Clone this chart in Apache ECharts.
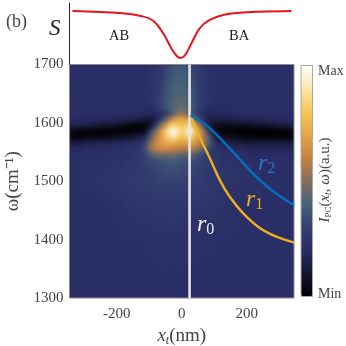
<!DOCTYPE html>
<html><head><meta charset="utf-8">
<style>html,body{margin:0;padding:0;background:#fff}#c{width:346px;height:346px}</style>
<script src="https://cdn.jsdelivr.net/npm/echarts@6/dist/echarts.min.js"></script>
</head><body><div id="c"></div>
<script>
const xTicks=[-200,0,200];
const omegaCells=[1695,1685,1675,1665,1655,1645,1635,1625,1615,1605,1595,1585,1575,1565,1555,1545,1535,1525,1515,1505,1495,1485,1475,1465,1455,1445,1435,1425,1415,1405,1395,1385,1375,1365,1355,1345,1335,1325,1315,1305];
const xCells=[-338,-323,-308,-293,-278,-263,-248,-233,-218,-203,-188,-173,-158,-143,-128,-113,-98,-83,-68,-53,-38,-23,-8,8,23,38,53,68,83,98,113,128,143,158,173,188,203,218,233,248,263,278,293,308,323,338];
const intensity=[
[21,21,21,21,21,21,21,21,21,21,21,21,21,21,21,21, 22,24,26,30,34,37,38,38,35,31,27,25,23,22, 21,21,21,21,21,21,21,21,21,21,21,21,21,21,21,21],
[21,21,21,21,21,21,21,21,21,21,21,21,21,21,21,21, 22,24,26,30,34,37,38,38,35,31,27,25,23,22, 21,21,21,21,21,21,21,21,21,21,21,21,21,21,21,21],
[21,21,21,21,21,21,21,21,21,21,21,21,21,21,21,21, 22,24,26,31,35,38,39,39,36,32,27,25,23,22, 21,21,21,21,21,21,21,21,21,21,21,21,21,21,21,21],
[21,21,21,21,21,21,21,21,21,21,21,21,21,21,21,21, 22,24,27,32,36,39,40,40,37,33,28,25,23,22, 21,21,21,21,21,21,21,21,21,21,21,21,21,21,21,21],
[21,21,21,21,21,21,21,21,21,21,21,21,21,21,21,22, 23,25,28,33,37,40,41,41,38,34,29,26,23,22, 21,21,21,21,21,21,21,21,21,21,21,21,21,21,21,21],
[21,21,21,21,21,21,21,21,21,21,21,21,21,21,21,22, 23,25,29,34,38,41,42,42,40,35,30,26,23,22, 21,21,21,21,21,21,21,21,21,21,21,21,21,21,21,21],
[20,20,20,21,21,21,21,21,21,21,21,21,21,21,21,21, 22,25,30,35,39,42,43,43,41,35,30,26,23,21, 21,21,21,21,21,21,21,21,21,21,21,21,21,21,21,21],
[20,20,20,20,20,20,20,20,20,20,20,20,20,20,20,20, 21,23,28,34,39,43,45,45,42,36,29,24,21,20, 20,20,20,20,20,20,20,20,20,20,20,20,20,20,20,20],
[21,21,21,21,21,21,21,21,21,21,20,20,20,20,20,19, 18,18,20,25,33,44,52,52,44,33,24,20,18,18, 19,19,19,20,20,20,20,20,20,20,20,20,20,20,20,20],
[19,19,19,19,19,18,18,18,18,17,17,16,15,14,13,11, 10,13,23,38,55,66,70,70,68,53,35,21,15,14, 14,14,14,15,15,16,16,16,17,17,18,18,18,19,19,19],
[15,15,14,14,13,12,11,10,9,8,6,5,3,2,1,2, 6,22,45,62,80,86,80,80,86,76,60,36,14,7, 6,5,5,5,5,5,6,7,8,8,9,10,11,12,13,14],
[2,2,1,1,1,0,0,0,0,0,0,0,1,2,3,5, 25,45,62,78,95,100,88,84,100,88,72,55,30,10, 4,2,1,1,0,0,0,0,0,0,0,0,0,1,1,1],
[2,2,2,3,3,4,4,5,6,7,8,9,10,12,14,18, 35,54,66,76,86,90,80,78,86,78,68,58,42,20, 11,9,7,6,5,4,3,3,2,2,2,2,2,2,2,2],
[13,13,14,15,15,16,16,17,17,18,18,19,20,21,23,30, 50,60,66,70,72,72,68,68,70,68,62,54,42,28, 18,16,15,14,13,13,12,12,12,12,12,12,13,13,13,13],
[19,19,19,20,20,20,20,21,21,21,21,22,22,23,26,34, 50,58,62,62,62,60,58,56,58,56,50,42,33,26, 22,21,20,20,19,19,18,18,18,18,18,18,18,18,18,18],
[21,21,21,21,21,21,21,22,22,22,23,23,24,25,27,31, 38,44,47,47,47,47,44,42,44,42,36,31,27,25, 24,23,22,22,21,21,21,20,20,20,20,20,20,20,20,20],
[21,21,21,22,21,22,22,22,23,23,23,24,25,26,28,30, 32,34,36,37,38,38,37,36,36,34,31,29,27,26, 25,24,23,23,22,22,22,21,21,21,21,21,21,21,21,21],
[21,21,22,22,22,23,22,23,24,23,24,25,26,27,28,29, 31,32,33,34,35,35,34,33,34,32,30,28,27,26, 25,24,24,23,23,22,22,22,21,21,21,21,21,21,21,21],
[21,22,22,23,22,23,23,24,23,24,25,25,26,27,28,29, 30,31,32,33,33,33,33,32,33,31,29,28,27,26, 25,25,24,24,23,23,22,22,22,21,21,21,21,21,21,21],
[21,21,22,22,23,23,24,23,24,25,25,26,27,27,28,28, 29,30,31,32,32,32,32,31,31,30,29,28,27,26, 25,25,24,24,23,23,23,22,22,22,21,21,21,21,21,21],
[21,21,21,22,23,22,23,24,24,24,25,26,26,27,27,28, 29,30,30,30,30,30,30,30,30,29,28,27,26,26, 25,24,24,24,23,23,23,22,22,22,22,21,21,21,21,21],
[21,21,21,21,22,22,22,23,24,24,25,25,26,26,27,27, 28,28,29,29,29,29,29,29,29,28,27,27,26,25, 25,24,24,23,23,23,22,22,22,22,22,21,21,21,21,21],
[21,21,21,21,21,22,22,22,23,23,24,25,25,25,26,26, 27,27,28,28,28,28,28,28,28,27,27,26,25,25, 24,24,23,23,23,22,22,22,22,22,21,21,21,21,21,21],
[21,21,21,21,21,21,22,22,22,23,23,24,24,25,25,26, 26,27,27,27,27,27,27,27,27,26,26,25,25,24, 24,23,23,23,22,22,22,22,22,21,21,21,21,21,21,21],
[21,21,21,21,21,21,21,22,22,23,23,24,24,24,25,25, 25,26,26,26,26,26,26,26,26,25,25,25,24,24, 23,23,23,22,22,22,22,21,21,21,21,21,21,21,21,21],
[21,21,21,21,21,21,21,21,22,22,23,23,23,24,24,24, 25,25,25,25,25,25,25,25,25,25,24,24,24,23, 23,23,22,22,22,22,21,21,21,21,21,21,21,21,21,21],
[21,21,21,21,21,21,21,21,21,22,22,23,23,23,23,24, 24,24,24,25,25,25,25,24,24,24,24,23,23,23, 23,22,22,22,22,21,21,21,21,21,21,21,21,21,21,21],
[21,21,21,21,21,21,21,21,21,21,22,22,22,23,23,23, 23,24,24,24,24,24,24,24,24,23,23,23,23,22, 22,22,22,22,21,21,21,21,21,21,21,21,21,21,21,21],
[21,21,21,21,21,21,21,21,21,21,21,22,22,22,22,23, 23,23,23,23,23,23,23,23,23,23,23,22,22,22, 22,22,22,21,21,21,21,21,21,21,21,21,21,21,21,21],
[21,21,21,21,21,21,21,21,21,21,21,21,22,22,22,22, 22,23,23,23,23,23,23,23,23,22,22,22,22,22, 22,21,21,21,21,21,21,21,21,21,21,21,21,21,21,21],
[21,21,21,21,21,21,21,21,21,21,21,21,21,21,22,22, 22,22,22,22,23,23,23,22,22,22,22,22,22,22, 21,21,21,21,21,21,21,21,21,21,21,21,21,21,21,21],
[21,21,21,21,21,21,21,21,21,21,21,21,21,21,21,22, 22,22,22,22,22,22,22,22,22,22,22,22,22,21, 21,21,21,21,21,21,21,21,21,21,21,21,21,21,21,21],
[21,21,21,21,21,21,21,21,21,21,21,21,21,21,21,21, 22,22,22,22,22,22,22,22,22,22,22,22,21,21, 21,21,21,21,21,21,21,21,21,21,21,21,21,21,21,21],
[21,21,21,21,21,21,21,21,21,21,21,21,21,21,21,21, 21,22,22,22,22,22,22,22,22,22,22,21,21,21, 21,21,21,21,21,21,21,21,21,21,21,21,21,21,21,21],
[21,21,21,21,21,21,21,21,21,21,21,21,21,21,21,21, 21,21,22,22,22,22,22,22,22,22,21,21,21,21, 21,21,21,21,21,21,21,21,21,21,21,21,21,21,21,21],
[21,21,21,21,21,21,21,21,21,21,21,21,21,21,21,21, 21,21,21,21,21,21,21,21,21,21,21,21,21,21, 21,21,21,21,21,21,21,21,21,21,21,21,21,21,21,21],
[21,21,21,21,21,21,21,21,21,21,21,21,21,21,21,21, 21,21,21,21,21,21,21,21,21,21,21,21,21,21, 21,21,21,21,21,21,21,21,21,21,21,21,21,21,21,21],
[21,21,21,21,21,21,21,21,21,21,21,21,21,21,21,21, 21,21,21,21,21,21,21,21,21,21,21,21,21,21, 21,21,21,21,21,21,21,21,21,21,21,21,21,21,21,21],
[21,21,21,21,21,21,21,21,21,21,21,21,21,21,21,21, 21,21,21,21,21,21,21,21,21,21,21,21,21,21, 21,21,21,21,21,21,21,21,21,21,21,21,21,21,21,21],
[21,21,21,21,21,21,21,21,21,21,21,21,21,21,21,21, 21,21,21,21,21,21,21,21,21,21,21,21,21,21, 21,21,21,21,21,21,21,21,21,21,21,21,21,21,21,21]
];
const sX=[-336,-252,-180,-129,-88,-57,-32,-16,-4,9,30,55,86,127,178,240,337];
const sV=[0.87,0.854,0.833,0.793,0.712,0.507,0.263,0.143,0.106,0.143,0.345,0.589,0.724,0.805,0.842,0.859,0.87];
const r0X=[24,24];
const r0W=[1300,1700];
const r1X=[27,55,86,117,148,189,240,291,345];
const r1W=[1613,1576,1540,1502,1473,1445,1420,1405,1395];
const r2X=[27,55,86,148,209,240,290,345];
const r2W=[1613,1603,1591,1556,1519,1502,1479,1459];
const zip=(a,b)=>a.map((v,i)=>[v,b[i]]);
const cmap=['#000000','#14152f','#292c65','#333f70','#466277','#856f5e','#c97f3f','#e3a548','#f5c657','#fbe6a8','#ffffff'];
const serif='"Liberation Serif",serif', ink='#444';
const cells=[];
intensity.forEach((row,r)=>row.forEach((v,c)=>cells.push([c,r,v])));
const L=69.5,T=64.5,W=224.5,H=233.5;
const mk=(x,y,w,h)=>({type:'rect',zlevel:1,z:-10,shape:{x,y,width:w,height:h},style:{fill:'#fff'},silent:true});
const txt=(x,y,rich,text,extra)=>Object.assign({type:'text',zlevel:1,z:20,x,y,silent:true,style:{text,rich,fontFamily:serif,fill:ink,align:'left',verticalAlign:'middle'}},extra||{});
const rLab=(col)=>({i:{fontFamily:serif,fontStyle:'italic',fontSize:24,fill:col,color:col},s:{fontFamily:serif,fontSize:16,color:col,fill:col,verticalAlign:'bottom',padding:[10,0,0,0]}});
const chart=echarts.init(document.getElementById('c'),null,{renderer:'canvas'});
chart.setOption({
  animation:false,
  backgroundColor:'transparent',
  grid:[
    {left:L,top:T,width:W,height:H,outerBoundsMode:'none'},
    {left:L,top:T,width:W,height:H,outerBoundsMode:'none',show:true,z:6,zlevel:1,borderColor:'#8a8a8a',borderWidth:1,backgroundColor:'transparent'},
    {left:L,top:3,width:W,height:T-3,outerBoundsMode:'none'}
  ],
  xAxis:[
    {type:'category',gridIndex:0,data:xCells,show:false},
    {type:'value',gridIndex:1,min:-345,max:345,zlevel:1,z:8,
     splitLine:{show:false},axisLine:{show:false},axisTick:{show:false},
     axisLabel:{customValues:xTicks,margin:9,fontFamily:serif,fontSize:15,color:ink},
     name:'{i|x}{s|t}{n|(nm)}',nameLocation:'middle',nameGap:21,
     nameTextStyle:{rich:{i:{fontFamily:serif,fontStyle:'italic',fontSize:19,color:ink},s:{fontFamily:serif,fontStyle:'italic',fontSize:12,color:ink,verticalAlign:'bottom',padding:[8,0,0,0]},n:{fontFamily:serif,fontSize:19,color:ink}}}},
    {type:'value',gridIndex:2,min:-345,max:345,show:false,axisLine:{onZero:false}}
  ],
  yAxis:[
    {type:'category',gridIndex:0,data:omegaCells,inverse:true,show:false},
    {type:'value',gridIndex:1,min:1300,max:1700,interval:100,zlevel:1,z:8,
     splitLine:{show:false},axisLine:{show:false},axisTick:{show:false},
     axisLabel:{margin:6,fontFamily:serif,fontSize:15,color:ink,padding:[4,0,0,0],formatter:v=>String(v)},
     name:'ω(cm⁻¹)',nameLocation:'middle',nameGap:27,nameRotate:90,
     nameTextStyle:{fontFamily:serif,fontSize:19,color:ink}},
    {type:'value',gridIndex:2,min:0,max:1,position:'left',zlevel:1,z:8,splitLine:{show:false},axisTick:{show:false},axisLabel:{show:false},
     axisLine:{show:true,onZero:false,lineStyle:{color:'#222',width:1}}}
  ],
  visualMap:{type:'continuous',seriesIndex:0,min:0,max:100,calculable:false,show:true,realtime:false,
    left:301,top:65.5,itemWidth:11.5,itemHeight:231,padding:0,zlevel:1,z:8,showLabel:false,text:null,
    inRange:{color:cmap},textStyle:{color:'transparent',fontSize:1}},
  series:[
    {type:'heatmap',xAxisIndex:0,yAxisIndex:0,data:cells,zlevel:0,z:2,silent:true,progressive:0,itemStyle:{borderWidth:0}},
    {type:'line',name:'r0',xAxisIndex:1,yAxisIndex:1,data:zip(r0X,r0W),zlevel:1,z:6,symbol:'none',lineStyle:{color:'#e6e6e6',width:2.6},silent:true},
    {type:'line',name:'r1',xAxisIndex:1,yAxisIndex:1,data:zip(r1X,r1W),zlevel:1,z:6,symbol:'none',smooth:0.35,lineStyle:{color:'#edb120',width:2.4},silent:true},
    {type:'line',name:'r2',xAxisIndex:1,yAxisIndex:1,data:zip(r2X,r2W),zlevel:1,z:6,symbol:'none',smooth:0.35,lineStyle:{color:'#0072bd',width:2.4},silent:true},
    {type:'line',name:'S',xAxisIndex:2,yAxisIndex:2,data:zip(sX,sV),zlevel:1,z:6,symbol:'none',smooth:0.4,lineStyle:{color:'#e8141c',width:2},silent:true}
  ],
  graphic:{elements:[
    {type:'rect',zlevel:0,z:-5,shape:{x:L-10,y:T-10,width:W+20,height:H+20},style:{fill:'#292c65'},silent:true},
    mk(0,0,L,346),mk(L+W,0,52,346),mk(0,0,346,T),mk(0,T+H,346,48),
    {type:'rect',zlevel:1,z:9,shape:{x:301,y:65.5,width:11.5,height:231},style:{fill:'none',stroke:'#a8a8a8',lineWidth:1},silent:true},
    txt(6,22,null,'(b)',{style:{text:'(b)',fontFamily:serif,fontSize:18,fill:ink,verticalAlign:'middle'}}),
    txt(49,29,null,'S',{style:{text:'S',fontFamily:serif,fontStyle:'italic',fontSize:23,fill:'#222',verticalAlign:'middle'}}),
    txt(109,36,null,'AB',{style:{text:'AB',fontFamily:serif,fontSize:14.5,fill:'#222',verticalAlign:'middle'}}),
    txt(229,36,null,'BA',{style:{text:'BA',fontFamily:serif,fontSize:14.5,fill:'#222',verticalAlign:'middle'}}),
    txt(318,71,null,'Max',{style:{text:'Max',fontFamily:serif,fontSize:14,fill:ink,verticalAlign:'middle'}}),
    txt(318,294,null,'Min',{style:{text:'Min',fontFamily:serif,fontSize:14,fill:ink,verticalAlign:'middle'}}),
    txt(197,225,null,'',{style:{text:'{i|r}{s|0}',rich:rLab('#f0f0f0'),verticalAlign:'middle'}}),
    txt(246,200,null,'',{style:{text:'{i|r}{s|1}',rich:rLab('#edb120'),verticalAlign:'middle'}}),
    txt(258,164,null,'',{style:{text:'{i|r}{s|2}',rich:rLab('#2f6fd0'),verticalAlign:'middle'}}),
    txt(325,180,null,'',{rotation:Math.PI/2,style:{text:'{i|I}{s|PC}{n|(}{i|x}{t|t}{n|, }{i|ω}{n|)(a.u.)}',align:'center',verticalAlign:'middle',
      rich:{i:{fontFamily:serif,fontStyle:'italic',fontSize:15,fill:ink,color:ink},n:{fontFamily:serif,fontSize:15,fill:ink,color:ink},
            s:{fontFamily:serif,fontSize:9,fill:ink,color:ink,verticalAlign:'bottom',padding:[6,0,0,0]},t:{fontFamily:serif,fontStyle:'italic',fontSize:10,fill:ink,color:ink,verticalAlign:'bottom',padding:[6,0,0,0]}}}})
  ]}
});
const base=document.querySelector('#c canvas');
base.style.filter='blur(2px)';
</script></body></html>
